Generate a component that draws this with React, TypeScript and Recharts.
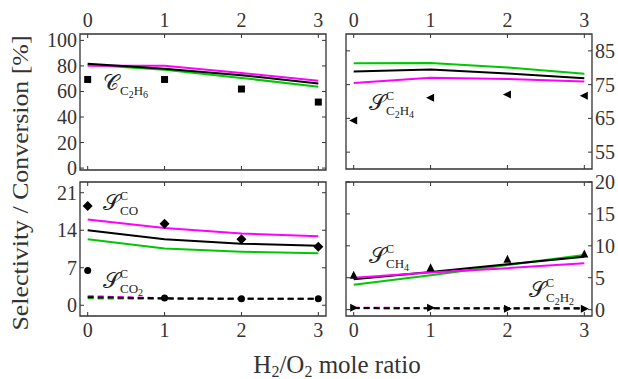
import React from "react";
import { ComposedChart, Line, Scatter, XAxis, YAxis, ReferenceArea } from "recharts";

// H2/O2 mole ratio (shared x)
const ratio = [0, 1, 2, 3];

// top left: C2H6 conversion
const convBlack = [81.7, 77.8, 72.7, 66.3];
const convMagenta = [80.1, 80.1, 74.5, 68.3];
const convGreen = [81, 77, 70.6, 63.7];
const convExp = [69.4, 69.4, 61.9, 51.7];

// top right: C2H4 selectivity
const c2h4Black = [78.9, 79.5, 78.3, 76.9];
const c2h4Magenta = [75.5, 77, 76.7, 75.9];
const c2h4Green = [81.3, 81.4, 80.1, 78.2];
const c2h4Exp = [64.4, 71.1, 72.1, 71.7];

// bottom left: CO and CO2 selectivity
const coBlack = [14.0, 12.3, 11.5, 11.1];
const coMagenta = [16.0, 14.4, 13.4, 12.9];
const coGreen = [12.3, 10.6, 10.0, 9.7];
const coExp = [18.5, 15.2, 12.3, 10.9];
const co2Black = [1.5, 1.3, 1.2, 1.2];
const co2Magenta = [1.7, 1.3, 1.25, 1.2];
const co2Green = [1.3, 1.2, 1.15, 1.15];
const co2Exp = [6.5, 1.35, 1.2, 1.2];

// bottom right: CH4 and C2H2 selectivity
const ch4Black = [4.75, 5.9, 7.1, 8.3];
const ch4Magenta = [5.0, 5.8, 6.5, 7.25];
const ch4Green = [3.9, 5.4, 7.0, 8.55];
const ch4Exp = [5.3, 6.5, 7.8, 8.65];
const c2h2Black = [0.25, 0.2, 0.2, 0.2];
const c2h2Magenta = [0.3, 0.25, 0.2, 0.2];
const c2h2Green = [0.2, 0.2, 0.15, 0.15];
const c2h2Exp = [0.3, 0.3, 0.15, 0.15];

const convTicks = [0, 20, 40, 60, 80, 100];
const c2h4Ticks = [55, 65, 75, 85];
const coTicks = [0, 7, 14, 21];
const ch4Ticks = [0, 5, 10, 15, 20];

const FONT = '"Liberation Serif", "DejaVu Serif", serif';
const INK = "#333";
const GREEN = "#00c800";
const MAGENTA = "#ff00ff";
const PAD = 40;
const TICK = 4;
const xDomain = [-0.1, 3.1];

type LineDef = { values: number[]; color: string; dashed?: boolean };
type MarkDef = { values: number[]; shape: string };

function marker(kind: string) {
  return (props: any) => {
    const { cx, cy } = props;
    if (cx == null || cy == null) return <g />;
    if (kind === "square") return <rect x={cx - 3.5} y={cy - 3.5} width={7} height={7} fill="#000" />;
    if (kind === "circle") return <circle cx={cx} cy={cy} r={3.5} fill="#000" />;
    let pts = "";
    if (kind === "diamond") pts = `${cx},${cy - 5} ${cx + 5},${cy} ${cx},${cy + 5} ${cx - 5},${cy}`;
    if (kind === "left") pts = `${cx - 4.5},${cy} ${cx + 3.5},${cy - 4} ${cx + 3.5},${cy + 4}`;
    if (kind === "right") pts = `${cx + 4.5},${cy} ${cx - 3.5},${cy - 4} ${cx - 3.5},${cy + 4}`;
    if (kind === "up") pts = `${cx},${cy - 5} ${cx + 4},${cy + 3} ${cx - 4},${cy + 3}`;
    return <polygon points={pts} fill="#000" />;
  };
}

function Panel({
  left,
  top,
  width,
  height,
  yDomain,
  yTicks,
  xSide,
  ySide,
  lines,
  marks,
}: {
  left: number;
  top: number;
  width: number;
  height: number;
  yDomain: number[];
  yTicks: number[];
  xSide: "top" | "bottom";
  ySide: "left" | "right";
  lines: LineDef[];
  marks: MarkDef[];
}) {
  const data = ratio.map((x, i) => {
    const row: any = { x };
    lines.forEach((l, j) => (row["l" + j] = l.values[i]));
    marks.forEach((m, j) => (row["m" + j] = m.values[i]));
    return row;
  });

  // axes are 1px thick (a 0px axis is not drawn), so trim that off the margin
  const margin = {
    top: xSide === "top" ? PAD - 1 : PAD,
    bottom: xSide === "bottom" ? PAD - 1 : PAD,
    left: ySide === "left" ? PAD - 1 : PAD,
    right: ySide === "right" ? PAD - 1 : PAD,
  };

  const xTick = (p: any) => {
    const dir = xSide === "top" ? 1 : -1;
    const far = p.y + dir * height;
    return (
      <g>
        <line x1={p.x} y1={p.y} x2={p.x} y2={p.y + dir * TICK} stroke={INK} />
        <line x1={p.x} y1={far} x2={p.x} y2={far - dir * TICK} stroke={INK} />
        <text x={p.x} y={xSide === "top" ? p.y - 7 : p.y + 21} textAnchor="middle" fontFamily={FONT} fontSize={20} fill={INK}>
          {p.payload.value}
        </text>
      </g>
    );
  };

  const yTick = (p: any) => {
    const dir = ySide === "left" ? 1 : -1;
    const far = p.x + dir * width;
    return (
      <g>
        <line x1={p.x} y1={p.y} x2={p.x + dir * TICK} y2={p.y} stroke={INK} />
        <line x1={far} y1={p.y} x2={far - dir * TICK} y2={p.y} stroke={INK} />
        <text
          x={ySide === "left" ? p.x - 3 : p.x + 3}
          y={p.y + 7}
          textAnchor={ySide === "left" ? "end" : "start"}
          fontFamily={FONT}
          fontSize={20}
          fill={INK}
        >
          {p.payload.value}
        </text>
      </g>
    );
  };

  return (
    <div style={{ position: "absolute", left: left - PAD, top: top - PAD }}>
      <ComposedChart width={width + 2 * PAD} height={height + 2 * PAD} data={data} margin={margin}>
        <XAxis
          dataKey="x"
          type="number"
          domain={xDomain}
          ticks={ratio}
          orientation={xSide}
          height={1}
          tickSize={0}
          tickMargin={0}
          axisLine={false}
          tickLine={false}
          interval={0}
          allowDataOverflow
          tick={xTick}
        />
        <YAxis
          type="number"
          domain={yDomain}
          ticks={yTicks}
          orientation={ySide}
          width={1}
          tickSize={0}
          tickMargin={0}
          axisLine={false}
          tickLine={false}
          interval={0}
          allowDataOverflow
          tick={yTick}
        />
        <ReferenceArea
          x1={xDomain[0]}
          x2={xDomain[1]}
          y1={yDomain[0]}
          y2={yDomain[1]}
          fill="none"
          fillOpacity={0}
          stroke={INK}
          strokeWidth={1.3}
        />
        {lines.map((l, j) => (
          <Line
            key={"l" + j}
            dataKey={"l" + j}
            type="linear"
            stroke={l.color}
            strokeWidth={2}
            strokeDasharray={l.dashed ? "6 4" : undefined}
            dot={false}
            isAnimationActive={false}
          />
        ))}
        {marks.map((m, j) => (
          <Scatter key={"m" + j} dataKey={"m" + j} shape={marker(m.shape)} isAnimationActive={false} />
        ))}
      </ComposedChart>
    </div>
  );
}

function Sub({ text, x, y }: { text: string; x: number; y: number }) {
  // letters normal, digits as lowered small subscripts
  const parts: React.ReactNode[] = [];
  let low = false;
  text.split("").forEach((ch, i) => {
    const digit = /[0-9]/.test(ch);
    const dy = digit && !low ? 2.5 : !digit && low ? -2.5 : 0;
    low = digit;
    parts.push(
      <tspan key={i} dy={dy} fontSize={digit ? 10 : 13}>
        {ch}
      </tspan>
    );
  });
  return (
    <text x={x} y={y} fontFamily={FONT} fill="#222">
      {parts}
    </text>
  );
}

function Note({ x, y, main, sup, sub }: { x: number; y: number; main: string; sup?: string; sub: string }) {
  return (
    <g>
      <text x={x} y={y} fontFamily={FONT} fontSize={22} fill="#222">
        {main}
      </text>
      {sup && (
        <text x={x + 17} y={y - 10} fontFamily={FONT} fontSize={12} fill="#222">
          {sup}
        </text>
      )}
      <Sub text={sub} x={x + 17} y={sup ? y + 5 : y + 5} />
    </g>
  );
}

export default function App() {
  return (
    <div
      style={{
        position: "absolute",
        left: 0,
        top: 0,
        width: 618,
        height: 379,
        overflow: "hidden",
        background: "#fff",
      }}
    >
      <Panel
        left={80}
        top={34}
        width={246}
        height={136}
        yDomain={[-1.5, 105]}
        yTicks={convTicks}
        xSide="top"
        ySide="left"
        lines={[
          { values: convGreen, color: GREEN },
          { values: convMagenta, color: MAGENTA },
          { values: convBlack, color: "#000" },
        ]}
        marks={[{ values: convExp, shape: "square" }]}
      />
      <Panel
        left={346}
        top={34}
        width={246}
        height={135}
        yDomain={[50, 90]}
        yTicks={c2h4Ticks}
        xSide="top"
        ySide="right"
        lines={[
          { values: c2h4Green, color: GREEN },
          { values: c2h4Magenta, color: MAGENTA },
          { values: c2h4Black, color: "#000" },
        ]}
        marks={[{ values: c2h4Exp, shape: "left" }]}
      />
      <Panel
        left={80}
        top={182}
        width={246}
        height={134}
        yDomain={[-2, 23]}
        yTicks={coTicks}
        xSide="bottom"
        ySide="left"
        lines={[
          { values: coGreen, color: GREEN },
          { values: coMagenta, color: MAGENTA },
          { values: coBlack, color: "#000" },
          { values: co2Green, color: GREEN, dashed: true },
          { values: co2Magenta, color: MAGENTA, dashed: true },
          { values: co2Black, color: "#000", dashed: true },
        ]}
        marks={[
          { values: coExp, shape: "diamond" },
          { values: co2Exp, shape: "circle" },
        ]}
      />
      <Panel
        left={346}
        top={182}
        width={246}
        height={134}
        yDomain={[-1, 20]}
        yTicks={ch4Ticks}
        xSide="bottom"
        ySide="right"
        lines={[
          { values: ch4Green, color: GREEN },
          { values: ch4Black, color: "#000" },
          { values: ch4Magenta, color: MAGENTA },
          { values: c2h2Green, color: GREEN, dashed: true },
          { values: c2h2Magenta, color: MAGENTA, dashed: true },
          { values: c2h2Black, color: "#000", dashed: true },
        ]}
        marks={[
          { values: ch4Exp, shape: "up" },
          { values: c2h2Exp, shape: "right" },
        ]}
      />
      <svg width={618} height={379} style={{ position: "absolute", left: 0, top: 0, pointerEvents: "none" }}>
        <Note x={103} y={90} main="𝒞" sub="C2H6" />
        <Note x={369} y={110} main="𝒮" sup="C" sub="C2H4" />
        <Note x={103} y={210} main="𝒮" sup="C" sub="CO" />
        <Note x={103} y={288} main="𝒮" sup="C" sub="CO2" />
        <Note x={369} y={263} main="𝒮" sup="C" sub="CH4" />
        <Note x={529} y={297} main="𝒮" sup="C" sub="C2H2" />
        <text
          transform="translate(28,183) rotate(-90)"
          textAnchor="middle"
          fontFamily={FONT}
          fontSize={24}
          textLength={295}
          lengthAdjust="spacingAndGlyphs"
          fill={INK}
        >
          Selectivity / Conversion [%]
        </text>
        <text x={337} y={373} textAnchor="middle" fontFamily={FONT} fontSize={25} fill={INK}>
          H<tspan fontSize={16} dy={4}>2</tspan>
          <tspan dy={-4}>/O</tspan>
          <tspan fontSize={16} dy={4}>2</tspan>
          <tspan dy={-4}> mole ratio</tspan>
        </text>
      </svg>
    </div>
  );
}
